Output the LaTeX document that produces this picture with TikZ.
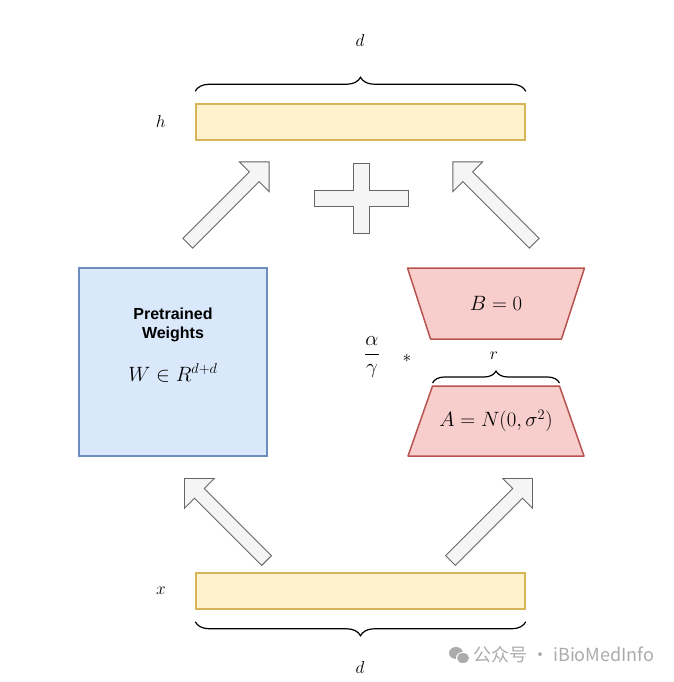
\documentclass[tikz,border=0pt]{standalone}
\usepackage{amsmath}
\usepackage{fontspec}
\newfontfamily\boxsans{Liberation Sans}
\newfontfamily\cjksans{Noto Sans CJK SC}
\usetikzlibrary{shapes.arrows, decorations.pathreplacing, positioning}
\definecolor{Cbarfill}{HTML}{FFF2CC}
\definecolor{Cbardraw}{HTML}{D6B656}
\definecolor{Cwfill}{HTML}{DAE8FC}
\definecolor{Cwdraw}{HTML}{6C8EBF}
\definecolor{Clfill}{HTML}{F8CECC}
\definecolor{Cldraw}{HTML}{B85450}
\definecolor{Carrfill}{HTML}{F5F5F5}
\definecolor{Carrdraw}{HTML}{666666}
\definecolor{Cmark}{HTML}{ABABAB}
\tikzset{
  barbox/.style={draw=Cbardraw, fill=Cbarfill, line width=1.5pt,
    minimum width=329pt, minimum height=36pt, inner sep=0pt},
  wbox/.style={draw=Cwdraw, fill=Cwfill, line width=1.5pt,
    minimum width=188pt, minimum height=188pt, inner sep=0pt},
  loratext/.style={font=\fontsize{20}{22}\selectfont, inner sep=0pt},
  lorashape/.style={draw=Cldraw, fill=Clfill, line width=1.5pt, line join=round},
  blockarr/.style={single arrow, draw=Carrdraw, fill=Carrfill, line width=0.9pt,
    single arrow tip angle=90, single arrow head extend=14pt,
    inner xsep=0pt, inner ysep=6.5pt, minimum height=#1},
  brc/.style={decorate, decoration={brace, amplitude=#1}, line width=1.2pt},
  lbl/.style={font=\fontsize{18}{20}\selectfont},
}

\begin{document}
\begin{tikzpicture}[x=1pt, y=-1pt]
\useasboundingbox (0,0) rectangle (673,682);

%% vectors h and x
\node[barbox] (hbar) at (360.5,122) {};
\node[barbox] (xbar) at (360.5,591) {};
\node[lbl, left=26pt of hbar] (hlbl) {$h$};
\node[lbl, left=26pt of xbar] (xlbl) {$x$};

\draw[brc=14pt] ([yshift=12pt]hbar.north west) -- ([yshift=12pt]hbar.north east);
\draw[brc=14pt] ([yshift=-12pt]xbar.south east) -- ([yshift=-12pt]xbar.south west);
\node[lbl] (dtop) at (360,41) {$d$};
\node[lbl] (dbot) at (360,667) {$d$};

%% frozen weights
\node[wbox] (wmat) at (173,362) {};
\node[font=\boxsans\bfseries\fontsize{16}{19}\selectfont, align=center]
  (wname) at (173,325) {Pretrained\\Weights};
\node[font=\fontsize{20}{22}\selectfont] (wdim) at (173,373) {$W \in R^{d+d}$};

%% low-rank adapter
\coordinate (bmid) at (496,303.5);
\coordinate (amid) at (496,421);
\draw[lorashape] ([shift={(-88.5,-35.5)}]bmid) -- ([shift={(88.5,-35.5)}]bmid)
  -- ([shift={(65.5,35.5)}]bmid) -- ([shift={(-65.5,35.5)}]bmid) -- cycle;
\draw[lorashape] ([shift={(-63.5,-35)}]amid) coordinate (atl)
  -- ([shift={(63.5,-35)}]amid) coordinate (atr)
  -- ([shift={(88,35)}]amid) -- ([shift={(-88,35)}]amid) -- cycle;
\node[loratext] (bmat) at (bmid) {$B = 0$};
\node[loratext] (amat) at (amid) {$A = N(0, \sigma^2)$};
\draw[brc=12pt] ([yshift=3pt]atl) -- ([yshift=3pt]atr);
\node[lbl] (rlbl) at (494,356) {$r$};
\node[font=\fontsize{20}{22}\selectfont] (scale) at (372,357) {$\dfrac{\alpha}{\gamma}$};
\node[font=\fontsize{19}{20}\selectfont] (star) at (407,358) {$*$};

%% block arrows
\node[blockarr=115pt, rotate=45] (arrW) at (226,205) {};
\node[blockarr=115pt, rotate=135] (arrBA) at (496,205) {};
\node[blockarr=116pt, rotate=135] (arrXW) at (228,522) {};
\node[blockarr=116pt, rotate=45] (arrXA) at (489,522) {};

%% plus sign
\coordinate (plus) at (361,198);
\draw[draw=Carrdraw, fill=Carrfill, line width=0.9pt]
  ([shift={(-8,-35)}]plus) -- ([shift={(8,-35)}]plus) -- ([shift={(8,-8)}]plus)
  -- ([shift={(47,-8)}]plus) -- ([shift={(47,8)}]plus) -- ([shift={(8,8)}]plus)
  -- ([shift={(8,35)}]plus) -- ([shift={(-8,35)}]plus) -- ([shift={(-8,8)}]plus)
  -- ([shift={(-47,8)}]plus) -- ([shift={(-47,-8)}]plus) -- ([shift={(-8,-8)}]plus)
  -- cycle;

%% watermark
\coordinate (icon) at (459,655);
\fill[Cmark] ([shift={(-3,-2)}]icon) ellipse [x radius=7, y radius=6];
\fill[white] ([shift={(4,3)}]icon) ellipse [x radius=7, y radius=6];
\fill[Cmark] ([shift={(4,3)}]icon) ellipse [x radius=6, y radius=5];
\node[font=\cjksans\fontsize{18}{20}\selectfont, text=Cmark, anchor=west, inner sep=0pt]
  (mark) at (473,655) {公众号 · iBioMedInfo};

\end{tikzpicture}
\end{document}
